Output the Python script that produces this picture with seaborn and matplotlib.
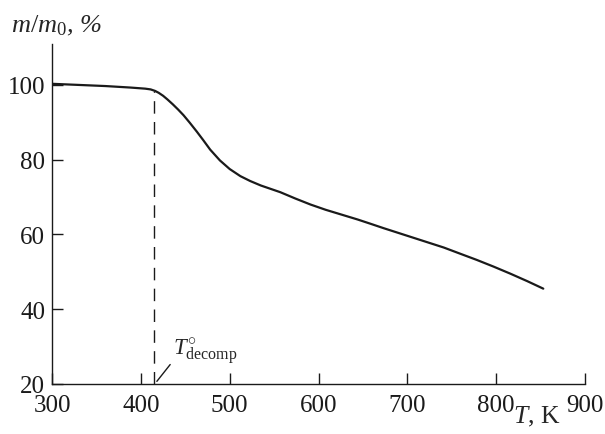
import numpy as np
import pandas as pd
import matplotlib
matplotlib.use("Agg")
import matplotlib.pyplot as plt
import seaborn as sns

# TG curve
temp_k = [300, 330, 360, 388, 405, 411, 416, 420, 425, 430, 436, 442, 448, 455, 463, 470, 478, 489,
          500, 512, 523, 535, 546, 557, 574, 591, 608, 626, 644, 658, 673, 690, 707, 724, 741,
          760, 778, 797, 816, 835, 853]
mass_pct = [100.3, 100.0, 99.7, 99.3, 99.0, 98.8, 98.4, 97.9, 97.1, 96.1, 94.8, 93.4, 91.9, 89.9, 87.5, 85.3, 82.7, 79.8,
            77.5, 75.6, 74.3, 73.1, 72.2, 71.3, 69.6, 68.0, 66.6, 65.3, 64.0, 62.9, 61.7, 60.4, 59.1, 57.8, 56.5,
            54.8, 53.2, 51.4, 49.5, 47.5, 45.5]
t_decomp = 415
x_ticks = [300, 400, 500, 600, 700, 800, 900]
y_ticks = [20, 40, 60, 80, 100]

df = pd.DataFrame({"T": temp_k, "m": mass_pct})

sns.set_style("ticks")
plt.rcParams["font.family"] = ["Liberation Serif", "DejaVu Serif"]
plt.rcParams["mathtext.fontset"] = "custom"
plt.rcParams["mathtext.rm"] = "Liberation Serif"
plt.rcParams["mathtext.it"] = "Liberation Serif:italic"

fig = plt.figure(figsize=(6.05, 4.35), dpi=100)
ax = fig.add_axes([0.086, 0.115, 0.881, 0.782])

sns.lineplot(data=df, x="T", y="m", color="#1a1a1a", lw=1.6, ax=ax)
ax.plot([t_decomp, t_decomp], [20, 98.5], color="#1a1a1a", lw=1.0, dashes=(9, 6))
ax.plot([418, 433], [20.7, 25.2], color="#1a1a1a", lw=1.0)
ax.text(436, 24.5, r"$T^{\circ}_{\rm decomp}$", fontsize=16.5, ha="left", va="bottom")

ax.set_xlim(300, 900)
ax.set_ylim(20, 111)
ax.set_xticks(x_ticks)
ax.set_yticks(y_ticks)
ax.tick_params(direction="in", length=8, width=1, labelsize=18, colors="#1a1a1a")
ax.tick_params(axis="y", pad=5)
ax.tick_params(axis="x", pad=7)
ax.set_xlabel("")
ax.set_ylabel("")
for s in ["top", "right"]:
    ax.spines[s].set_visible(False)
for s in ["left", "bottom"]:
    ax.spines[s].set_linewidth(1)
    ax.spines[s].set_color("#1a1a1a")

fig.text(0.018, 0.94, r"$m/m_0$, %", fontsize=19, style="italic", ha="left", va="center")
fig.text(0.848, 0.042, r"$T$, K", fontsize=18.5, ha="left", va="center")

fig.savefig("out.png", dpi=100)
